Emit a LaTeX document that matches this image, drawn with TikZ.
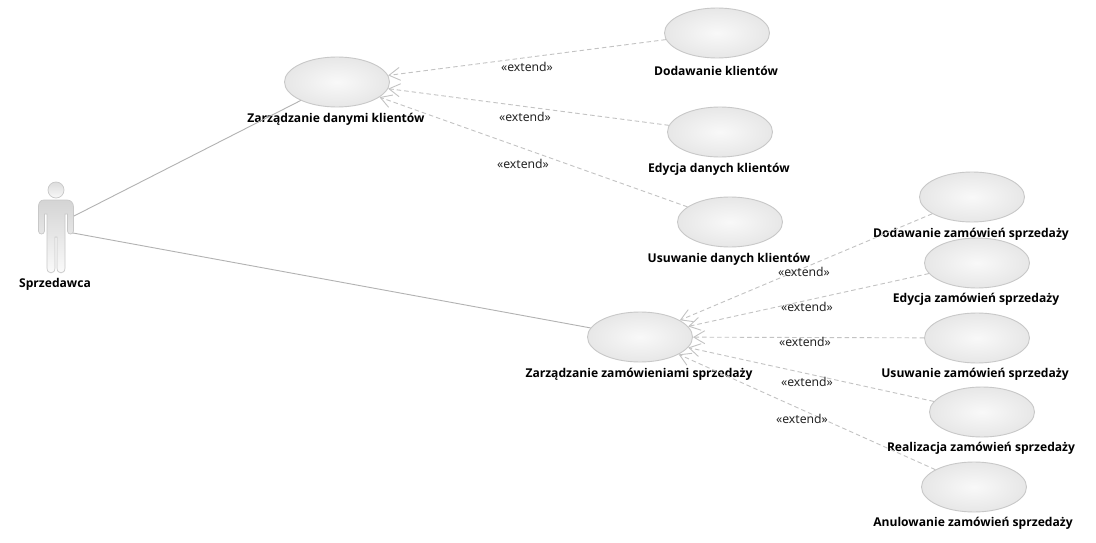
\documentclass[tikz,border=0pt]{standalone}
\usepackage{fontspec}
\setmainfont{Noto Sans}
\newfontfamily\ucfont{Open Sans}
\usetikzlibrary{arrows.meta,shapes.geometric}
\definecolor{edgegray}{RGB}{195,195,195}
\definecolor{rimgray}{RGB}{200,200,200}
\definecolor{linegray}{RGB}{178,178,178}
\definecolor{fillout}{RGB}{220,220,220}
\definecolor{fillin}{RGB}{248,248,248}
\definecolor{actortop}{RGB}{212,212,212}
\pgfdeclareradialshading{ucball}{\pgfpoint{0bp}{0bp}}{rgb(0bp)=(0.975,0.975,0.975); rgb(36bp)=(0.875,0.875,0.875); rgb(50bp)=(0.84,0.84,0.84)}
\tikzset{
  usecase/.style={ellipse,draw=rimgray,line width=0.9pt,minimum width=105pt,minimum height=50pt,inner sep=0pt,shading=ucball},
  uclabel/.style={font=\ucfont\fontsize{12.1}{14}\selectfont\bfseries,text=black,inner sep=0pt},
  extlabel/.style={font=\fontsize{12.2}{14}\selectfont,text=black!85,inner sep=0pt},
  extendline/.style={draw=edgegray,line width=0.9pt,dash pattern=on 4.5pt off 3pt,-{Straight Barb[length=11pt,width=13pt,line width=0.9pt]}},
  assoc/.style={draw=linegray,line width=0.9pt},
}
\begin{document}
\begin{tikzpicture}[x=1pt,y=-1pt]
\useasboundingbox[fill=white] (0,0) rectangle (1096,543);
% actor
\node[circle,minimum size=16pt,inner sep=0pt,draw=rimgray,line width=0.7pt,top color=fillout,bottom color=fillin] (head) at (56,190) {};
\path[draw=rimgray,line width=0.7pt,top color=actortop,bottom color=white!97!gray]
  (44,200) -- (67,200) .. controls (71,200) and (73.5,203) .. (73.5,207) -- (73.5,231)
  .. controls (73.5,235) and (67.5,235) .. (67.5,231) -- (67.5,214) -- (65,214) -- (65,268)
  .. controls (65,274.5) and (57,274.5) .. (57,268) -- (57,237) -- (55,237) -- (55,268)
  .. controls (55,274.5) and (47,274.5) .. (47,268) -- (47,214) -- (44.5,214) -- (44.5,231)
  .. controls (44.5,235) and (38.5,235) .. (38.5,231) -- (38.5,207) .. controls (38.5,203) and (40,200) .. (44,200) -- cycle;
\coordinate (actorTop) at (74,216);
\coordinate (actorLow) at (73,233);
\node[uclabel] (actorName) at (55,284) {Sprzedawca};
% use cases
\node[usecase] (zk) at (337,82) {};
\node[usecase] (zs) at (640,337) {};
\node[usecase] (k1) at (717,33) {};
\node[usecase] (k2) at (720,132) {};
\node[usecase] (k3) at (730,222) {};
\node[usecase] (s1) at (972,197) {};
\node[usecase] (s2) at (977,263) {};
\node[usecase] (s3) at (977,338) {};
\node[usecase] (s4) at (982,412) {};
\node[usecase] (s5) at (974,487) {};
% labels
\node[uclabel] (lzk) at (336,119) {Zarządzanie danymi klientów};
\node[uclabel] (lzs) at (639,374.5) {Zarządzanie zamówieniami sprzedaży};
\node[uclabel] (lk1) at (716,70.5) {Dodawanie klientów};
\node[uclabel] (lk2) at (719,169.5) {Edycja danych klientów};
\node[uclabel] (lk3) at (729,259.5) {Usuwanie danych klientów};
\node[uclabel] (ls1) at (971,234.5) {Dodawanie zamówień sprzedaży};
\node[uclabel] (ls2) at (976,299.5) {Edycja zamówień sprzedaży};
\node[uclabel] (ls3) at (975,374.5) {Usuwanie zamówień sprzedaży};
\node[uclabel] (ls4) at (981,448.5) {Realizacja zamówień sprzedaży};
\node[uclabel] (ls5) at (973,523.5) {Anulowanie zamówień sprzedaży};
% connectors
\draw[assoc] (actorTop) -- (zk);
\draw[assoc] (actorLow) -- (zs);
\draw[extendline] (k1) -- (zk);
\draw[extendline] (k2) -- (zk);
\draw[extendline] (k3) -- (zk);
\draw[extendline] (s1) -- (zs);
\draw[extendline] (s2) -- (zs);
\draw[extendline] (s3) -- (zs);
\draw[extendline] (s4) -- (zs);
\draw[extendline] (s5) -- (zs);
% stereotypes
\node[extlabel] (e1) at (527,66.5) {«extend»};
\node[extlabel] (e2) at (525,116.5) {«extend»};
\node[extlabel] (e3) at (523,163.5) {«extend»};
\node[extlabel] (e4) at (804,271.5) {«extend»};
\node[extlabel] (e5) at (807,306.5) {«extend»};
\node[extlabel] (e6) at (805,341.5) {«extend»};
\node[extlabel] (e7) at (807,381.5) {«extend»};
\node[extlabel] (e8) at (802,418.5) {«extend»};
\end{tikzpicture}
\end{document}
